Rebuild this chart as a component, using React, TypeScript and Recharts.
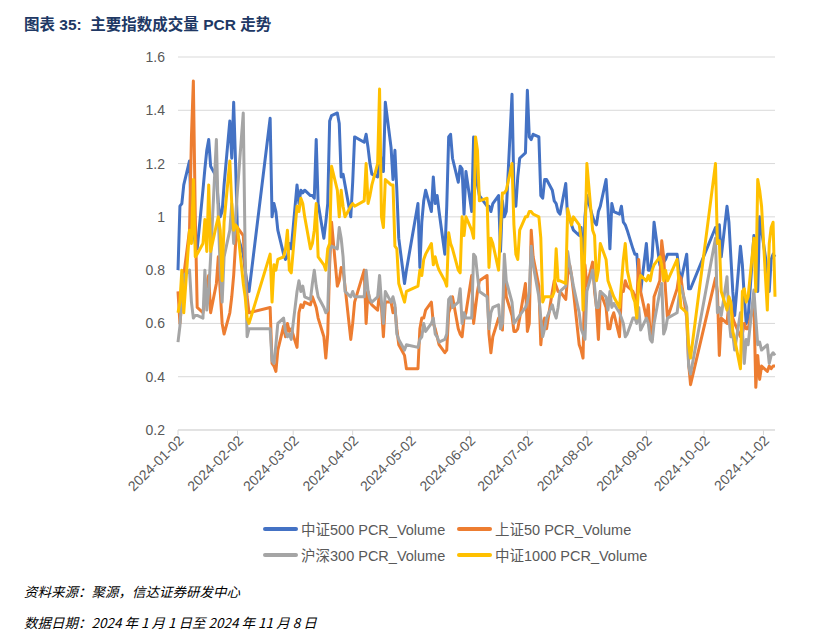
import { LineChart, Line, XAxis, YAxis, CartesianGrid } from "recharts";

const YEAR = 2024;

// trading days shown in the chart (no points between 09-25 and 10-08)
const dates = [
  "01-02", "01-03", "01-04", "01-05", "01-08", "01-09", "01-10", "01-11", "01-12", "01-15", "01-16",
  "01-17", "01-18", "01-19", "01-22", "01-23", "01-24", "01-25", "01-26", "01-29", "01-30", "01-31",
  "02-01", "02-02", "02-05", "02-06", "02-07", "02-08", "02-19", "02-20", "02-21", "02-22", "02-23",
  "02-26", "02-27", "02-28", "02-29",
  "03-01", "03-04", "03-05", "03-06", "03-07", "03-08", "03-11", "03-12", "03-13", "03-14", "03-15",
  "03-18", "03-19", "03-20", "03-21", "03-22", "03-25", "03-26", "03-27", "03-28", "03-29",
  "04-01", "04-02", "04-03", "04-08", "04-09", "04-10", "04-11", "04-12", "04-15", "04-16", "04-17",
  "04-18", "04-19", "04-22", "04-23", "04-24", "04-25", "04-26", "04-29", "04-30",
  "05-06", "05-07", "05-08", "05-09", "05-10", "05-13", "05-14", "05-15", "05-16", "05-17", "05-20",
  "05-21", "05-22", "05-23", "05-24", "05-27", "05-28", "05-29", "05-30", "05-31",
  "06-03", "06-04", "06-05", "06-06", "06-07", "06-11", "06-12", "06-13", "06-14", "06-17", "06-18",
  "06-19", "06-20", "06-21", "06-24", "06-25", "06-26", "06-27", "06-28",
  "07-01", "07-02", "07-03", "07-04", "07-05", "07-08", "07-09", "07-10", "07-11", "07-12", "07-15",
  "07-16", "07-17", "07-18", "07-19", "07-22", "07-23", "07-24", "07-25", "07-26", "07-29", "07-30", "07-31",
  "08-01", "08-02", "08-05", "08-06", "08-07", "08-08", "08-09", "08-12", "08-13", "08-14", "08-15",
  "08-16", "08-19", "08-20", "08-21", "08-22", "08-23", "08-26", "08-27", "08-28", "08-29", "08-30",
  "09-02", "09-03", "09-04", "09-05", "09-06", "09-09", "09-10", "09-11", "09-12", "09-13", "09-18",
  "09-19", "09-20", "09-23", "09-24", "09-25",
  "10-08", "10-09", "10-10", "10-11", "10-14", "10-15", "10-16", "10-17", "10-18", "10-21", "10-22",
  "10-23", "10-24", "10-25", "10-28", "10-29", "10-30", "10-31",
  "11-01", "11-04", "11-05", "11-06", "11-07", "11-08",
];

// 中证500
const zz500 = [
  0.8, 1.04, 1.05, 1.12, 1.21, 0.98, 0.95, 0.9, 0.88, 1.1, 1.18, 1.25, 1.29, 1.19, 1.15, 1.05, 1.0, 1.02, 1.12, 1.36, 1.22, 1.43,
  1.2, 0.93, 0.86, 0.8, 0.75, 0.72, 1.37, 1.0, 1.05, 1.02, 0.95, 0.86, 0.84, 0.85, 0.9,
  0.88, 1.12, 1.05, 1.1, 1.09, 1.1, 1.08, 1.08, 1.07, 1.29, 1.05, 0.92, 0.98, 1.05, 1.36, 1.38, 1.39, 1.35, 1.15, 1.16, 1.12,
  1.0, 1.13, 1.3, 1.28, 1.31, 1.26, 1.2, 1.16, 1.15, 1.26, 1.2, 1.17, 1.43, 1.26, 1.14, 1.25, 1.1, 0.92, 0.75, 0.8,
  1.05, 0.81, 0.98, 1.06, 1.1, 1.02, 1.15, 1.05, 1.08, 1.02, 0.86, 1.04, 1.3, 1.31, 1.22, 1.13, 1.19, 1.18, 1.01, 1.17,
  1.02, 1.3, 1.24, 1.12, 1.08, 1.04, 1.04, 1.02, 1.05, 1.08, 0.87, 1.06, 1.0, 1.02, 1.46, 1.1, 1.04, 1.15, 1.22,
  1.24, 1.475, 1.3, 1.29, 1.31, 1.3, 1.08, 1.07, 1.14, 1.14, 1.1, 1.06, 1.05, 1.02, 1.01, 1.125, 0.99, 1.0, 0.97, 0.95, 0.93, 0.96, 0.78,
  1.0, 1.08, 1.0, 0.98, 0.97, 1.02, 1.04, 1.14, 1.03, 0.88, 1.05, 1.02, 1.01, 1.04, 0.98, 0.97, 0.95, 0.88, 0.86, 0.86, 0.76, 0.72,
  0.9, 0.8, 0.8, 0.85, 0.98, 0.82, 0.8, 0.83, 0.84, 0.86, 0.86, 0.8, 0.76, 0.86, 0.73, 0.73,
  0.96, 0.92, 0.97, 0.85, 1.04, 0.98, 0.85, 0.72, 0.63, 0.89, 0.82, 0.7, 0.6, 0.62, 0.93, 0.9, 0.72, 1.0,
  0.95, 0.8, 0.72, 0.84, 0.86, 0.85,
];

// 上证50
const sz50 = [
  0.72, 0.6, 0.68, 0.78, 0.95, 1.3, 1.51, 1.0, 0.66, 0.64, 0.7, 0.75, 0.78, 0.64, 0.75, 0.85, 0.72, 0.6, 0.56, 0.64, 0.7, 0.78,
  0.9, 0.96, 0.93, 0.8, 0.7, 0.64, 0.66, 0.45, 0.44, 0.42, 0.5, 0.59, 0.55, 0.6, 0.57,
  0.58, 0.51, 0.64, 0.67, 0.66, 0.68, 0.67, 0.7, 0.68, 0.66, 0.62, 0.55, 0.47, 0.56, 0.82, 0.98, 0.74, 0.76, 0.81, 0.8, 0.74,
  0.54, 0.6, 0.68, 0.8, 0.6, 0.72, 0.68, 0.67, 0.65, 0.72, 0.66, 0.55, 0.68, 0.68, 0.64, 0.66, 0.58, 0.52, 0.48, 0.43,
  0.43, 0.58, 0.62, 0.62, 0.65, 0.68, 0.6, 0.58, 0.55, 0.52, 0.49, 0.5, 0.64, 0.66, 0.7, 0.58, 0.56, 0.55, 0.62, 0.64,
  0.78, 0.6, 0.66, 0.72, 0.76, 0.78, 0.56, 0.49, 0.55, 0.62, 0.6, 0.575, 0.8, 0.7, 0.63, 0.57, 0.57, 0.58, 0.62,
  0.75, 0.57, 0.6, 0.95, 0.85, 0.74, 0.52, 0.6, 0.62, 0.58, 0.72, 0.76, 0.74, 0.72, 0.72, 0.69, 0.78, 0.82, 0.78, 0.72, 0.52, 0.5, 0.47,
  0.82, 0.74, 0.83, 0.72, 0.66, 0.54, 0.72, 0.66, 0.58, 0.58, 0.62, 0.64, 0.55, 0.72, 0.72, 0.76, 0.74, 0.72, 0.7, 0.68, 0.84, 0.72,
  0.62, 0.67, 0.56, 0.54, 0.7, 0.76, 0.91, 0.85, 0.72, 0.62, 0.73, 0.78, 0.77, 0.62, 0.45, 0.37,
  0.77, 0.72, 0.48, 0.62, 0.6, 0.68, 0.67, 0.62, 0.6, 0.55, 0.56, 0.6, 0.58, 0.58, 0.68, 0.36, 0.48, 0.39,
  0.44, 0.42, 0.44, 0.43, 0.44, 0.44,
];

// 沪深300
const hs300 = [
  0.53, 0.59, 0.7, 0.78, 0.8, 0.68, 0.62, 0.63, 0.63, 0.62, 0.8, 0.65, 0.72, 0.85, 1.29, 1.0, 0.8, 0.68, 0.85, 0.95, 1.05, 0.9,
  1.0, 1.1, 1.39, 0.85, 0.55, 0.58, 0.58, 0.46, 0.45, 0.52, 0.6, 0.62, 0.57, 0.55, 0.56,
  0.54, 0.72, 0.76, 0.72, 0.74, 0.7, 0.69, 0.75, 0.8, 0.74, 0.7, 0.66, 0.64, 0.65, 0.87, 0.89, 0.88, 0.96, 0.92, 0.85, 0.72,
  0.7, 0.72, 0.7, 0.7, 0.8, 0.72, 0.69, 0.68, 0.7, 0.78, 0.68, 0.6, 0.72, 0.68, 0.7, 0.67, 0.56, 0.54, 0.5, 0.52,
  0.51, 0.54, 0.55, 0.6, 0.57, 0.6, 0.62, 0.56, 0.55, 0.53, 0.54, 0.56, 0.69, 0.7, 0.66, 0.68, 0.73, 0.6, 0.64, 0.62,
  0.62, 0.86, 0.85, 0.78, 0.72, 0.7, 0.58, 0.64, 0.66, 0.67, 0.58, 0.6, 0.86, 0.76, 0.68, 0.6, 0.61, 0.62, 0.63,
  0.66, 0.68, 0.72, 0.89, 0.82, 0.7, 0.62, 0.55, 0.58, 0.62, 0.67, 0.64, 0.62, 0.66, 0.72, 0.74, 0.87, 0.82, 0.78, 0.74, 0.64, 0.58, 0.56,
  0.54, 0.72, 0.8, 0.74, 0.66, 0.66, 0.72, 0.7, 0.65, 0.72, 0.66, 0.675, 0.64, 0.62, 0.6, 0.55, 0.56, 0.62, 0.62, 0.6, 0.66, 0.575,
  0.62, 0.6, 0.54, 0.53, 0.6, 0.72, 0.75, 0.56, 0.58, 0.62, 0.64, 0.7, 0.74, 0.66, 0.44, 0.41,
  0.92, 0.64, 0.66, 0.63, 0.775, 0.62, 0.55, 0.56, 0.5, 0.64, 0.58, 0.45, 0.54, 0.52, 0.725, 0.62, 0.52, 0.53,
  0.5, 0.52, 0.45, 0.48, 0.49, 0.48,
];

// 中证1000
const zz1000 = [
  0.64, 0.68, 0.8, 0.64, 0.95, 0.9, 1.14, 0.85, 0.86, 0.9, 0.99, 0.87, 1.12, 0.87, 0.97, 1.0, 0.95, 0.76, 0.98, 1.21, 1.05, 0.95,
  0.97, 0.96, 0.75, 0.7, 0.62, 0.6, 0.86, 0.68, 0.82, 0.8, 0.84, 0.85, 0.88, 0.95, 0.8,
  0.79, 1.04, 1.02, 1.07, 1.05, 1.0, 0.88, 0.9, 0.95, 1.05, 0.85, 0.82, 0.8, 0.88, 0.9, 1.19, 1.1, 1.0, 1.1, 1.04, 1.0,
  1.04, 1.05, 1.04, 1.06, 1.2, 1.05, 1.08, 1.12, 1.2, 1.48, 1.0, 0.96, 1.14, 1.12, 1.12, 0.89, 0.88, 0.75, 0.68, 0.72,
  0.74, 0.8, 0.78, 0.84, 0.86, 0.9, 0.82, 0.85, 0.82, 0.8, 0.76, 0.74, 0.94, 0.9, 0.88, 0.8, 0.79, 1.0, 0.93, 1.0,
  0.95, 0.92, 1.3, 1.25, 1.06, 1.07, 0.81, 0.92, 0.9, 0.8, 0.95, 1.09, 1.09, 1.1, 1.2, 0.97, 0.86, 0.84, 0.95,
  1.0, 1.0, 1.02, 1.02, 1.01, 1.0, 0.92, 0.68, 0.7, 0.7, 0.7, 0.72, 0.88, 0.76, 0.76, 0.75, 1.03, 1.0, 0.97, 1.0, 0.97, 0.92, 0.65,
  0.9, 1.2, 0.95, 0.93, 0.76, 0.8, 0.9, 0.84, 0.76, 0.74, 0.72, 0.7, 0.66, 0.75, 0.84, 0.9, 0.8, 0.7, 0.68, 0.62, 0.75, 0.78,
  0.76, 0.78, 0.76, 0.8, 0.82, 0.85, 0.82, 0.76, 0.8, 0.76, 0.84, 0.75, 0.66, 0.64, 0.52, 0.47,
  1.2, 0.9, 0.91, 0.72, 0.65, 0.7, 0.68, 0.57, 0.54, 0.43, 0.72, 0.73, 0.68, 0.7, 0.92, 0.72, 1.14, 1.1,
  1.04, 0.65, 0.9, 0.96, 0.98, 0.7,
];

const xTickLabels = [
  "2024-01-02", "2024-02-02", "2024-03-02", "2024-04-02", "2024-05-02", "2024-06-02",
  "2024-07-02", "2024-08-02", "2024-09-02", "2024-10-02", "2024-11-02",
];
const yTicks = [0.2, 0.4, 0.6, 0.8, 1.0, 1.2, 1.4, 1.6];

const series = [
  { key: "zz500", name: "中证500 PCR_Volume", color: "#4472C4" },
  { key: "sz50", name: "上证50 PCR_Volume", color: "#ED7D31" },
  { key: "hs300", name: "沪深300 PCR_Volume", color: "#A5A5A5" },
  { key: "zz1000", name: "中证1000 PCR_Volume", color: "#FFC000" },
];

const start = Date.UTC(YEAR, 0, 2);
const dayOf = (s: string) => {
  const p = s.split("-").map(Number);
  const [y, m, d] = p.length === 3 ? p : [YEAR, p[0], p[1]];
  return Math.round((Date.UTC(y, m - 1, d) - start) / 86400000);
};

const data = dates.map((d, i) => ({
  t: dayOf(d),
  zz500: zz500[i],
  sz50: sz50[i],
  hs300: hs300[i],
  zz1000: zz1000[i],
}));

const xTicks = xTickLabels.map(dayOf);
const labelOf = (t: number) => xTickLabels[xTicks.indexOf(t)] ?? "";

const font = '"Liberation Sans", "Noto Sans CJK SC", sans-serif';
const grey = "#595959";

const XTick = (props: any) => {
  const { x, y, payload } = props;
  return (
    <g transform={`translate(${x + 3},${y + 1})`}>
      <text x={0} y={0} dy="0.35em" textAnchor="end" fill={grey} fontSize={14} fontFamily={font} transform="rotate(-45)">
        {labelOf(payload.value)}
      </text>
    </g>
  );
};

const LegendItem = ({ color, name }: { color: string; name: string }) => (
  <div style={{ display: "flex", alignItems: "center", width: 194 }}>
    <div style={{ width: 35, height: 4, borderRadius: 2, background: color, marginRight: 3 }} />
    <span style={{ fontSize: 14.5, color: grey, fontFamily: font, whiteSpace: "nowrap" }}>{name}</span>
  </div>
);

export default function App() {
  return (
    <div style={{ position: "absolute", left: 0, top: 0, width: 825, height: 634, background: "#fff", fontFamily: font }}>
      <div
        style={{
          position: "absolute", left: 24, top: 12, fontSize: 15.5, fontWeight: 700, color: "#203864",
          fontFamily: '"Liberation Sans", "Noto Sans CJK SC", sans-serif', whiteSpace: "pre",
        }}
      >
        {"图表 35:  主要指数成交量 PCR 走势"}
      </div>

      <div style={{ position: "absolute", left: 0, top: 0 }}>
        <LineChart width={825} height={520} data={data} margin={{ top: 57, right: 50, bottom: 10, left: 0 }}>
          <CartesianGrid vertical={false} stroke="#D9D9D9" />
          <XAxis
            type="number"
            dataKey="t"
            domain={["dataMin", "dataMax"]}
            ticks={xTicks}
            interval={0}
            height={80}
            tick={<XTick />}
            tickSize={5}
            tickMargin={2}
            axisLine={{ stroke: "#D9D9D9" }}
            tickLine={{ stroke: "#D9D9D9" }}
          />
          <YAxis
            domain={[0.2, 1.6]}
            ticks={yTicks}
            width={178}
            axisLine={false}
            tickLine={false}
            tickMargin={7}
            tick={{ fill: grey, fontSize: 14, fontFamily: font }}
            tickFormatter={(v: number) => `${Math.round(v * 10) / 10}`}
          />
          {series.map((s) => (
            <Line
              key={s.key}
              type="linear"
              dataKey={s.key}
              name={s.name}
              stroke={s.color}
              strokeWidth={3}
              strokeLinejoin="round"
              dot={false}
              isAnimationActive={false}
            />
          ))}
        </LineChart>
      </div>

      <div style={{ position: "absolute", left: 263, top: 518, display: "flex", flexWrap: "wrap", width: 400, rowGap: 5 }}>
        {series.map((s) => (
          <LegendItem key={s.key} color={s.color} name={s.name} />
        ))}
      </div>

      <div style={{ position: "absolute", left: 24, top: 581, fontSize: 13.5, fontStyle: "italic", color: "#000", fontFamily: '"Noto Sans CJK SC", sans-serif' }}>
        资料来源：聚源，信达证券研发中心
      </div>
      <div style={{ position: "absolute", left: 24, top: 612, fontSize: 13.5, fontStyle: "italic", color: "#000", fontFamily: '"Noto Sans CJK SC", sans-serif', whiteSpace: "pre" }}>
        数据日期：2024 年 1 月 1 日至 2024 年 11 月 8 日
      </div>
    </div>
  );
}
